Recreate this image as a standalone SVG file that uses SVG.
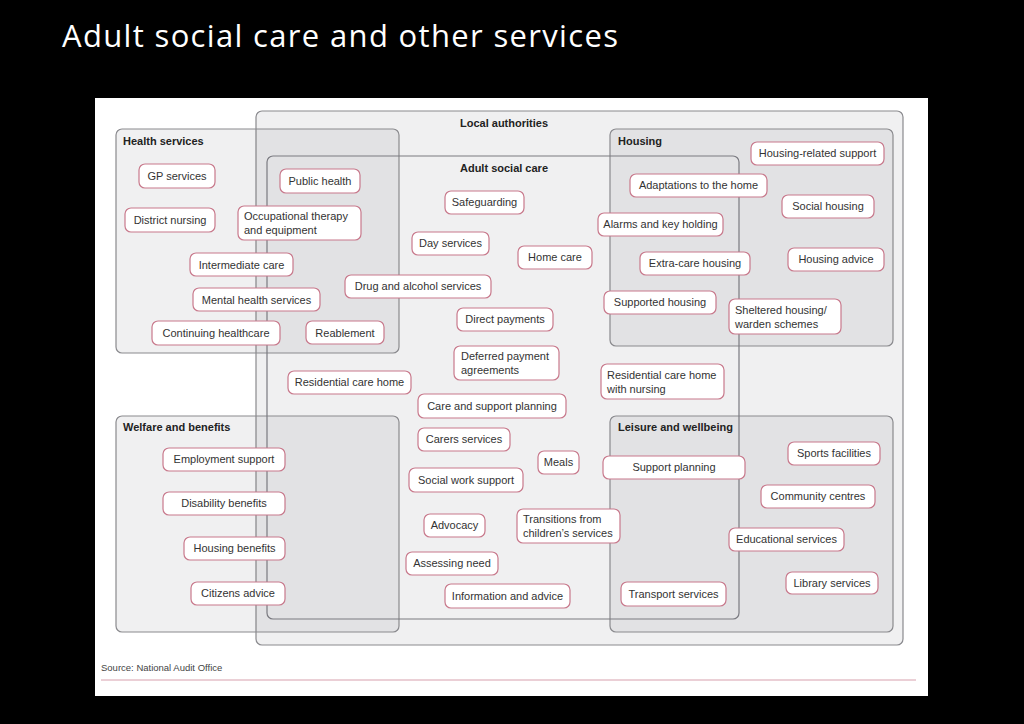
<svg xmlns="http://www.w3.org/2000/svg" width="1024" height="724" viewBox="0 0 1024 724">
<style>
.bg{fill:#000}
.region{fill:rgba(60,60,80,0.08);stroke:#8a8a8e;stroke-width:1.2}
.asc{fill:none;stroke:#7a7a80;stroke-width:1.2}
.hd{font-family:"Liberation Sans",Arial,sans-serif;font-size:11px;font-weight:bold;fill:#222}
.n rect{fill:#fff;stroke:#c8798c;stroke-width:1.2}
.n text{font-family:"Liberation Sans",Arial,sans-serif;font-size:11px;fill:#333}
</style>
<rect class="bg" x="0" y="0" width="1024" height="724"/>
<text x="62" y="47" font-family="'Open Sans','Noto Sans',sans-serif" font-size="31" fill="#fff" textLength="556">Adult social care and other services</text>
<rect x="95" y="98" width="833" height="598" fill="#fff"/>
<g id="regions">
<rect class="region" x="256" y="111" width="647" height="534" rx="6"/>
<rect class="region" x="116" y="129" width="283" height="224" rx="6"/>
<rect class="region" x="610" y="129" width="283" height="217" rx="6"/>
<rect class="region" x="116" y="416" width="283" height="216" rx="6"/>
<rect class="region" x="610" y="416" width="283" height="216" rx="6"/>
<rect class="asc" x="267" y="156" width="472" height="463" rx="6"/>
<text class="hd" x="504" y="127" text-anchor="middle">Local authorities</text>
<text class="hd" x="504" y="172" text-anchor="middle">Adult social care</text>
<text class="hd" x="123" y="145">Health services</text>
<text class="hd" x="618" y="145">Housing</text>
<text class="hd" x="123" y="431">Welfare and benefits</text>
<text class="hd" x="618" y="431">Leisure and wellbeing</text>
</g>
<g id="connectors"/>
<g id="gp" class="n"><rect x="139" y="164" width="76" height="24" rx="6"/><text x="177" y="180" text-anchor="middle">GP services</text></g>
<g id="district" class="n"><rect x="125" y="208" width="90" height="24" rx="6"/><text x="170" y="224" text-anchor="middle">District nursing</text></g>
<g id="occ" class="n"><rect x="238" y="206" width="123" height="34" rx="6"/><text x="244" y="220">Occupational therapy</text><text x="244" y="234">and equipment</text></g>
<g id="public" class="n"><rect x="280" y="169" width="80" height="24" rx="6"/><text x="320" y="185" text-anchor="middle">Public health</text></g>
<g id="inter" class="n"><rect x="190" y="253" width="103" height="23" rx="6"/><text x="241.5" y="269" text-anchor="middle">Intermediate care</text></g>
<g id="mental" class="n"><rect x="193" y="288" width="127" height="23" rx="6"/><text x="256.5" y="304" text-anchor="middle">Mental health services</text></g>
<g id="cont" class="n"><rect x="152" y="321" width="128" height="24" rx="6"/><text x="216" y="337" text-anchor="middle">Continuing healthcare</text></g>
<g id="reable" class="n"><rect x="306" y="321" width="78" height="23" rx="6"/><text x="345" y="337" text-anchor="middle">Reablement</text></g>
<g id="drug" class="n"><rect x="345" y="275" width="146" height="23" rx="6"/><text x="418" y="290" text-anchor="middle">Drug and alcohol services</text></g>
<g id="safe" class="n"><rect x="445" y="191" width="79" height="23" rx="6"/><text x="484.5" y="206" text-anchor="middle">Safeguarding</text></g>
<g id="day" class="n"><rect x="412" y="232" width="77" height="23" rx="6"/><text x="450.5" y="247" text-anchor="middle">Day services</text></g>
<g id="home" class="n"><rect x="518" y="246" width="74" height="23" rx="6"/><text x="555" y="261" text-anchor="middle">Home care</text></g>
<g id="direct" class="n"><rect x="457" y="308" width="96" height="23" rx="6"/><text x="505" y="323" text-anchor="middle">Direct payments</text></g>
<g id="deferred" class="n"><rect x="454" y="346" width="105" height="34" rx="6"/><text x="461" y="360">Deferred payment</text><text x="461" y="374">agreements</text></g>
<g id="rch" class="n"><rect x="288" y="371" width="123" height="23" rx="6"/><text x="349.5" y="386" text-anchor="middle">Residential care home</text></g>
<g id="csp" class="n"><rect x="418" y="394" width="148" height="24" rx="6"/><text x="492" y="410" text-anchor="middle">Care and support planning</text></g>
<g id="carers" class="n"><rect x="418" y="428" width="92" height="23" rx="6"/><text x="464" y="443" text-anchor="middle">Carers services</text></g>
<g id="meals" class="n"><rect x="538" y="451" width="41" height="23" rx="6"/><text x="558.5" y="466" text-anchor="middle">Meals</text></g>
<g id="sws" class="n"><rect x="409" y="468" width="114" height="24" rx="6"/><text x="466" y="484" text-anchor="middle">Social work support</text></g>
<g id="adv" class="n"><rect x="424" y="514" width="61" height="23" rx="6"/><text x="454.5" y="529" text-anchor="middle">Advocacy</text></g>
<g id="trans" class="n"><rect x="517" y="509" width="103" height="34" rx="6"/><text x="523" y="523">Transitions from</text><text x="523" y="537">children’s services</text></g>
<g id="assess" class="n"><rect x="406" y="552" width="92" height="23" rx="6"/><text x="452" y="567" text-anchor="middle">Assessing need</text></g>
<g id="info" class="n"><rect x="445" y="584" width="125" height="24" rx="6"/><text x="507.5" y="600" text-anchor="middle">Information and advice</text></g>
<g id="adapt" class="n"><rect x="630" y="174" width="137" height="23" rx="6"/><text x="698.5" y="189" text-anchor="middle">Adaptations to the home</text></g>
<g id="alarms" class="n"><rect x="598" y="213" width="125" height="23" rx="6"/><text x="660.5" y="228" text-anchor="middle">Alarms and key holding</text></g>
<g id="extra" class="n"><rect x="640" y="252" width="110" height="23" rx="6"/><text x="695" y="267" text-anchor="middle">Extra-care housing</text></g>
<g id="supported" class="n"><rect x="604" y="291" width="112" height="23" rx="6"/><text x="660" y="306" text-anchor="middle">Supported housing</text></g>
<g id="rchn" class="n"><rect x="601" y="364" width="123" height="35" rx="6"/><text x="607" y="379">Residential care home</text><text x="607" y="393">with nursing</text></g>
<g id="hrs" class="n"><rect x="751" y="142" width="133" height="23" rx="6"/><text x="817.5" y="157" text-anchor="middle">Housing-related support</text></g>
<g id="social" class="n"><rect x="782" y="195" width="92" height="23" rx="6"/><text x="828" y="210" text-anchor="middle">Social housing</text></g>
<g id="hadv" class="n"><rect x="788" y="248" width="96" height="23" rx="6"/><text x="836" y="263" text-anchor="middle">Housing advice</text></g>
<g id="shelt" class="n"><rect x="729" y="299" width="112" height="35" rx="6"/><text x="735" y="314">Sheltered housing/</text><text x="735" y="328">warden schemes</text></g>
<g id="sp" class="n"><rect x="603" y="456" width="142" height="23" rx="6"/><text x="674" y="471" text-anchor="middle">Support planning</text></g>
<g id="sports" class="n"><rect x="788" y="442" width="92" height="23" rx="6"/><text x="834" y="457" text-anchor="middle">Sports facilities</text></g>
<g id="comm" class="n"><rect x="761" y="485" width="114" height="23" rx="6"/><text x="818" y="500" text-anchor="middle">Community centres</text></g>
<g id="edu" class="n"><rect x="729" y="528" width="115" height="23" rx="6"/><text x="786.5" y="543" text-anchor="middle">Educational services</text></g>
<g id="lib" class="n"><rect x="786" y="572" width="92" height="22" rx="6"/><text x="832" y="587" text-anchor="middle">Library services</text></g>
<g id="transport" class="n"><rect x="621" y="582" width="105" height="24" rx="6"/><text x="673.5" y="598" text-anchor="middle">Transport services</text></g>
<g id="emp" class="n"><rect x="163" y="448" width="122" height="23" rx="6"/><text x="224" y="463" text-anchor="middle">Employment support</text></g>
<g id="dis" class="n"><rect x="163" y="492" width="122" height="23" rx="6"/><text x="224" y="507" text-anchor="middle">Disability benefits</text></g>
<g id="hben" class="n"><rect x="184" y="537" width="101" height="23" rx="6"/><text x="234.5" y="552" text-anchor="middle">Housing benefits</text></g>
<g id="cit" class="n"><rect x="191" y="582" width="94" height="23" rx="6"/><text x="238" y="597" text-anchor="middle">Citizens advice</text></g>
<text x="101" y="671" font-family="'Liberation Sans',Arial,sans-serif" font-size="9.5" fill="#444">Source: National Audit Office</text>
<line x1="101" y1="680" x2="916" y2="680" stroke="#d7a0ad" stroke-width="1"/>
</svg>
